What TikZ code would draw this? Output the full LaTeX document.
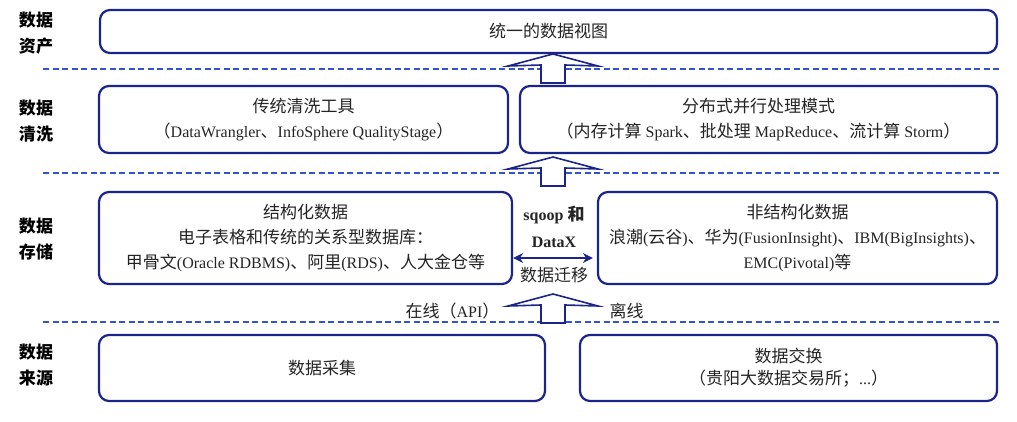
\documentclass[tikz,border=0pt]{standalone}
\usepackage{fontspec}
\setmainfont{Liberation Serif}
\newfontfamily\cjk[Scale=1.0625]{Noto Sans CJK SC}
\newcommand{\zh}[1]{{\cjk #1}}
\usetikzlibrary{arrows.meta}
\definecolor{boxblue}{RGB}{26,36,138}
\definecolor{dashblue}{RGB}{52,84,200}
\definecolor{txt}{RGB}{36,36,36}

\tikzset{
  layerbox/.style={draw=boxblue, line width=2.2pt, rounded corners=10pt, align=center,
    inner sep=0pt, text=txt, font=\fontsize{16}{25}\selectfont},
  layername/.style={align=center, text=black, font=\fontsize{16}{26}\selectfont\bfseries},
  sepline/.style={dashblue, line width=1.8pt, dash pattern=on 6pt off 3.5pt},
  fatarrow/.style={draw=boxblue, line width=1.6pt, fill=white, line join=miter},
  migrate/.style={boxblue, line width=1.8pt, {Stealth[length=10pt,width=10pt]}-{Stealth[length=10pt,width=10pt]}},
  uparrow/.pic={\draw[fatarrow] (-12,0) -- (-12,-18) -- (-45,-17) -- (0,-29) -- (45,-17) -- (12,-18) -- (12,0) -- cycle;}
}

\begin{document}
\begin{tikzpicture}[x=1pt,y=-1pt]
            \useasboundingbox (0,0) rectangle (1017,422);

            % Layer lines
            \draw[sepline] (43,69) -- (1000,69);
            \draw[sepline] (43,173) -- (1000,173);
            \draw[sepline] (43,322) -- (1000,322);

            % Layer names
            \node[layername] (name-asset) at (36,33) {\zh{数据}\\\zh{资产}};
            \node[layername] (name-clean) at (36,121) {\zh{数据}\\\zh{清洗}};
            \node[layername] (name-store) at (36,239) {\zh{数据}\\\zh{存储}};
            \node[layername] (name-source) at (36,365) {\zh{数据}\\\zh{来源}};

            % Boxes
            \node[layerbox, minimum width=897pt, minimum height=43pt] (asset) at (548.5,31.5) {\zh{统一的数据视图}};

            \node[layerbox, minimum width=409pt, minimum height=67pt] (clean-l) at (303.5,119.5)
              {\zh{传统清洗工具}\\\zh{（}DataWrangler\zh{、}InfoSphere QualityStage\zh{）}};
            \node[layerbox, minimum width=477pt, minimum height=67pt] (clean-r) at (758.5,119.5)
              {\zh{分布式并行处理模式}\\\zh{（内存计算} Spark\zh{、批处理} MapReduce\zh{、流计算} Storm\zh{）}};

            \node[layerbox, minimum width=413pt, minimum height=92pt] (store-l) at (305.5,238)
              {\zh{结构化数据}\\\zh{电子表格和传统的关系型数据库：}\\\zh{甲骨文}(Oracle RDBMS)\zh{、阿里}(RDS)\zh{、人大金仓等}};
            \node[layerbox, minimum width=399pt, minimum height=92pt] (store-r) at (797.5,238)
              {\zh{非结构化数据}\\\zh{浪潮}(\zh{云谷})\zh{、华为}(FusionInsight)\zh{、}IBM(BigInsights)\zh{、}\\EMC(Pivotal)\zh{等}};

            \node[layerbox, minimum width=446pt, minimum height=66pt] (source-l) at (322,368) {\zh{数据采集}};
            \node[layerbox, minimum width=417pt, minimum height=66pt] (source-r) at (788.5,368)
              {\zh{数据交换}\\[-3pt]\zh{（贵阳大数据交易所；}...\zh{）}};

            % Arrows between layers
            \coordinate (up-asset) at (553,83);
            \coordinate (up-clean) at (553,186);
            \coordinate (up-store) at (553,323);
            \pic at (up-asset) {uparrow};
            \pic at (up-clean) {uparrow};
            \pic at (up-store) {uparrow};

            \draw[migrate, shorten >=4pt] ([yshift=-20pt]store-l.east) -- ([yshift=-20pt]store-r.west);

            % Labels
            \node[align=center, text=txt, font=\fontsize{16}{27}\selectfont\bfseries] (tool) at (554,226.5) {sqoop \zh{和}\\DataX};
            \node[text=txt, font=\fontsize{16}{20}\selectfont] (move) at (554,275) {\zh{数据迁移}};
            \node[anchor=east, text=txt, font=\fontsize{16}{20}\selectfont] (online) at (503,311) {\zh{在线（}API\zh{）}};
            \node[anchor=west, text=txt, font=\fontsize{16}{20}\selectfont] (offline) at (606,311) {\zh{离线}};

        \end{tikzpicture}
\end{document}
